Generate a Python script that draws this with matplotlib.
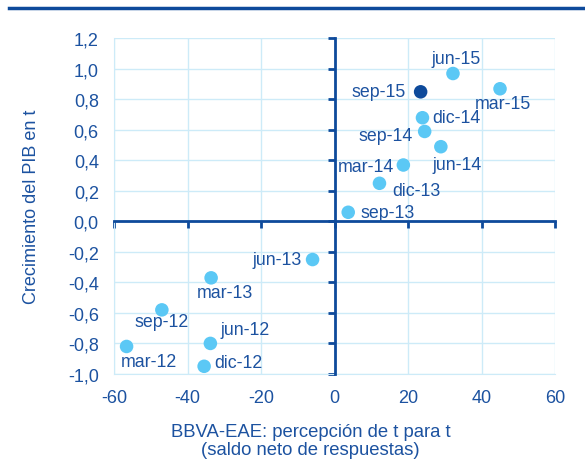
import numpy as np
import matplotlib.pyplot as plt
from matplotlib.lines import Line2D
from matplotlib.ticker import FuncFormatter, MultipleLocator

plt.rcParams['font.family'] = ['Liberation Sans', 'DejaVu Sans']

# Datos
periodos = ['mar-12', 'jun-12', 'sep-12', 'dic-12', 'mar-13', 'jun-13', 'sep-13',
            'dic-13', 'mar-14', 'jun-14', 'sep-14', 'dic-14', 'mar-15', 'jun-15', 'sep-15']
percepcion = [-56.6, -33.8, -47.0, -35.5, -33.6, -6.0, 3.7,
              12.2, 18.7, 28.9, 24.5, 23.9, 45.0, 32.2, 23.4]
pib = [-0.82, -0.80, -0.58, -0.95, -0.37, -0.25, 0.06,
       0.25, 0.37, 0.49, 0.59, 0.68, 0.87, 0.97, 0.85]

# Desplazamiento de etiquetas (píxeles) y alineación
offsets = {
    'mar-12': (22, -15, 'center'), 'jun-12': (10, 14, 'left'),
    'sep-12': (0, -12, 'center'), 'dic-12': (10, 4, 'left'),
    'mar-13': (14, -15, 'center'), 'jun-13': (-11, 0, 'right'),
    'sep-13': (12, 0, 'left'), 'dic-13': (13, -7, 'left'),
    'mar-14': (-9, -1, 'right'), 'jun-14': (16, -18, 'center'),
    'sep-14': (-12, -4, 'right'), 'dic-14': (10, 0, 'left'),
    'mar-15': (3, -15, 'center'), 'jun-15': (3, 15, 'center'),
    'sep-15': (-15, 0, 'right'),
}

texto = '#1c52a0'
oscuro = '#0e4a9b'
claro = '#5bc8f5'
rejilla = '#cdebf8'

fig = plt.figure(figsize=(5.85, 4.64), dpi=100)
ax = fig.add_axes([0.195, 0.192, 0.754, 0.723])

colores = [oscuro if p == 'sep-15' else claro for p in periodos]
ax.scatter(percepcion, pib, s=95, c=colores, zorder=4, linewidths=0)

for p, x, y in zip(periodos, percepcion, pib):
    dx, dy, ha = offsets[p]
    ax.annotate(p, (x, y), xytext=(dx, dy), textcoords='offset pixels',
                ha=ha, va='center', fontsize=12.8, color=texto, zorder=5)

ax.set_xlim(-60, 60)
ax.set_ylim(-1.0, 1.2)
ax.xaxis.set_major_locator(MultipleLocator(20))
ax.yaxis.set_major_locator(MultipleLocator(0.2))
ax.yaxis.set_major_formatter(FuncFormatter(lambda v, _: f'{v:.1f}'.replace('.', ',').replace('-0,0', '0,0')))
ax.xaxis.set_major_formatter(FuncFormatter(lambda v, _: f'{v:.0f}'))

ax.grid(True, color=rejilla, linewidth=1)
ax.set_axisbelow(True)

# Ejes centrales en el origen
for lado in ['left', 'bottom']:
    ax.spines[lado].set_color(rejilla)
for lado in ['top', 'right']:
    ax.spines[lado].set_position(('data', 0))
    ax.spines[lado].set_color(oscuro)
    ax.spines[lado].set_linewidth(2)
    ax.spines[lado].set_zorder(3)

ax.tick_params(axis='x', bottom=False, top=True, labelbottom=True, labeltop=False,
               direction='in', length=5, width=2, color=oscuro, pad=11,
               labelsize=13, labelcolor=texto)
ax.tick_params(axis='y', left=False, right=True, labelleft=True, labelright=False,
               direction='in', length=5, width=2, color=oscuro, pad=11,
               labelsize=13, labelcolor=texto)

ax.set_ylabel('Crecimiento del PIB en t', fontsize=13, color=texto)
ax.yaxis.set_label_coords(-0.168, 0.5)
ax.set_xlabel('BBVA-EAE: percepción de t para t\n(saldo neto de respuestas)',
              fontsize=13.3, color=texto, linespacing=1.05)
ax.xaxis.set_label_coords(0.446, -0.147)
ax.xaxis.label.set_va('top')

# Línea superior
fig.add_artist(Line2D([0.0154, 1.0], [0.9806, 0.9806], color=oscuro, linewidth=2.5))

fig.savefig('out.png', dpi=100)
